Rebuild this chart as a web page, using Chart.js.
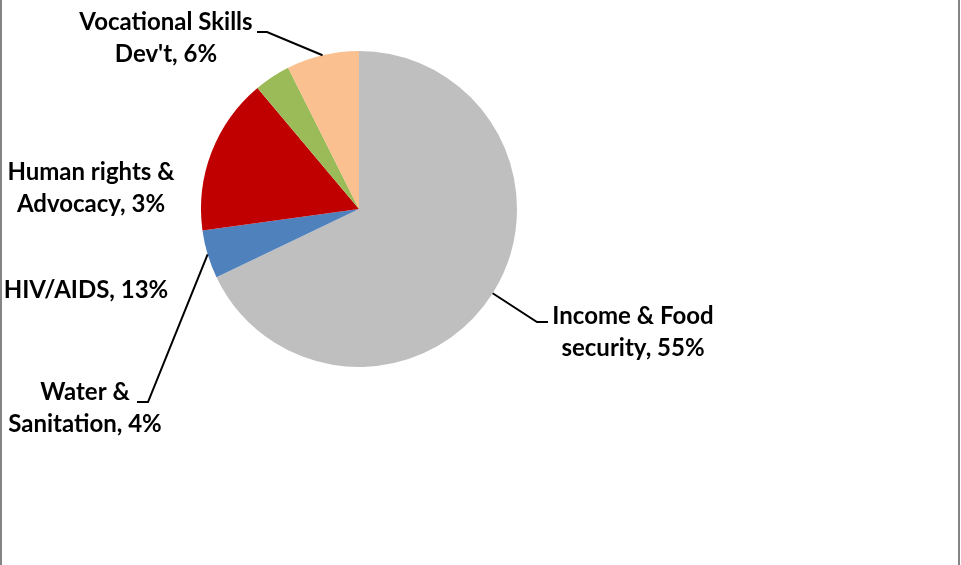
<!DOCTYPE html>
<html>
<head>
<meta charset="utf-8">
<script src="https://cdn.jsdelivr.net/npm/chart.js@4/dist/chart.umd.min.js"></script>
<style>
  body { margin: 0; background: #fff; }
  #wrap { position: relative; width: 961px; height: 565px; }
  #wrap:before, #wrap:after { content: ''; position: absolute; top: 0; bottom: 0; width: 2px; background: #858585; }
  #wrap:before { left: 0; }
  #wrap:after { left: 958px; }
</style>
</head>
<body>
<div id="wrap"><canvas id="chart1" width="961" height="565"></canvas></div>
<script>
// categories + values (slice order, clockwise from 12 o'clock)
const categories = ['Income & Food security', 'Water & Sanitation', 'HIV/AIDS', 'Human rights & Advocacy', "Vocational Skills Dev't"];
const values = [55, 4, 13, 3, 6];
const labelLines = [
    ['Income & Food', 'security, 55%'],
    ['Water &', 'Sanitation, 4%'],
    ['HIV/AIDS, 13%'],
    ['Human rights &', 'Advocacy, 3%'],
    ['Vocational Skills', "Dev't, 6%"]
];
const colors = ['#BFBFBF', '#4F81BD', '#C00000', '#9BBB59', '#FAC090'];

// where each label sits (text centre) and its leader elbow / end, null = no leader
const labelPos = [
    { x: 633, y: 316, elbow: [537, 322], end: [548, 322] },
    { x: 85, y: 392, elbow: [148, 402], end: [137, 402] },
    { x: 86, y: 290, elbow: null },
    { x: 91, y: 172, elbow: null },
    { x: 166, y: 22, elbow: [267, 32], end: [257, 32] }
];

const pieLabels = {
    id: 'pieLabels',
    afterDraw(chart) {
        const ctx = chart.ctx;
        const arcs = chart.getDatasetMeta(0).data;
        ctx.save();
        ctx.strokeStyle = '#000';
        ctx.lineWidth = 2;
        arcs.forEach((arc, i) => {
            const p = labelPos[i];
            if (p.elbow) {
                const mid = (arc.startAngle + arc.endAngle) / 2;
                const sx = arc.x + Math.cos(mid) * arc.outerRadius;
                const sy = arc.y + Math.sin(mid) * arc.outerRadius;
                ctx.beginPath();
                ctx.moveTo(sx, sy);
                ctx.lineTo(p.elbow[0], p.elbow[1]);
                ctx.lineTo(p.end[0], p.end[1]);
                ctx.stroke();
            }
            ctx.fillStyle = '#000';
            ctx.font = 'bold 24px Lato';
            ctx.textAlign = 'center';
            ctx.textBaseline = 'middle';
            labelLines[i].forEach((t, k) => {
                ctx.fillText(t, p.x, p.y + k * 32);
            });
        });
        ctx.restore();
    }
};

window.onload = function () {
    let chart1 = document.getElementById('chart1').getContext('2d');

    let pieChart = new Chart(chart1, {
        type: 'pie',
        data: {
            labels: categories,
            datasets: [{
                data: values,
                backgroundColor: colors,
                borderWidth: 0
            }]
        },
        options: {
            responsive: false,
            animation: false,
            layout: { padding: { left: 201, right: 444, top: 51, bottom: 198 } },
            plugins: {
                legend: { display: false },
                tooltip: { enabled: false }
            }
        },
        plugins: [pieLabels]
    });
}
</script>
</body>
</html>
